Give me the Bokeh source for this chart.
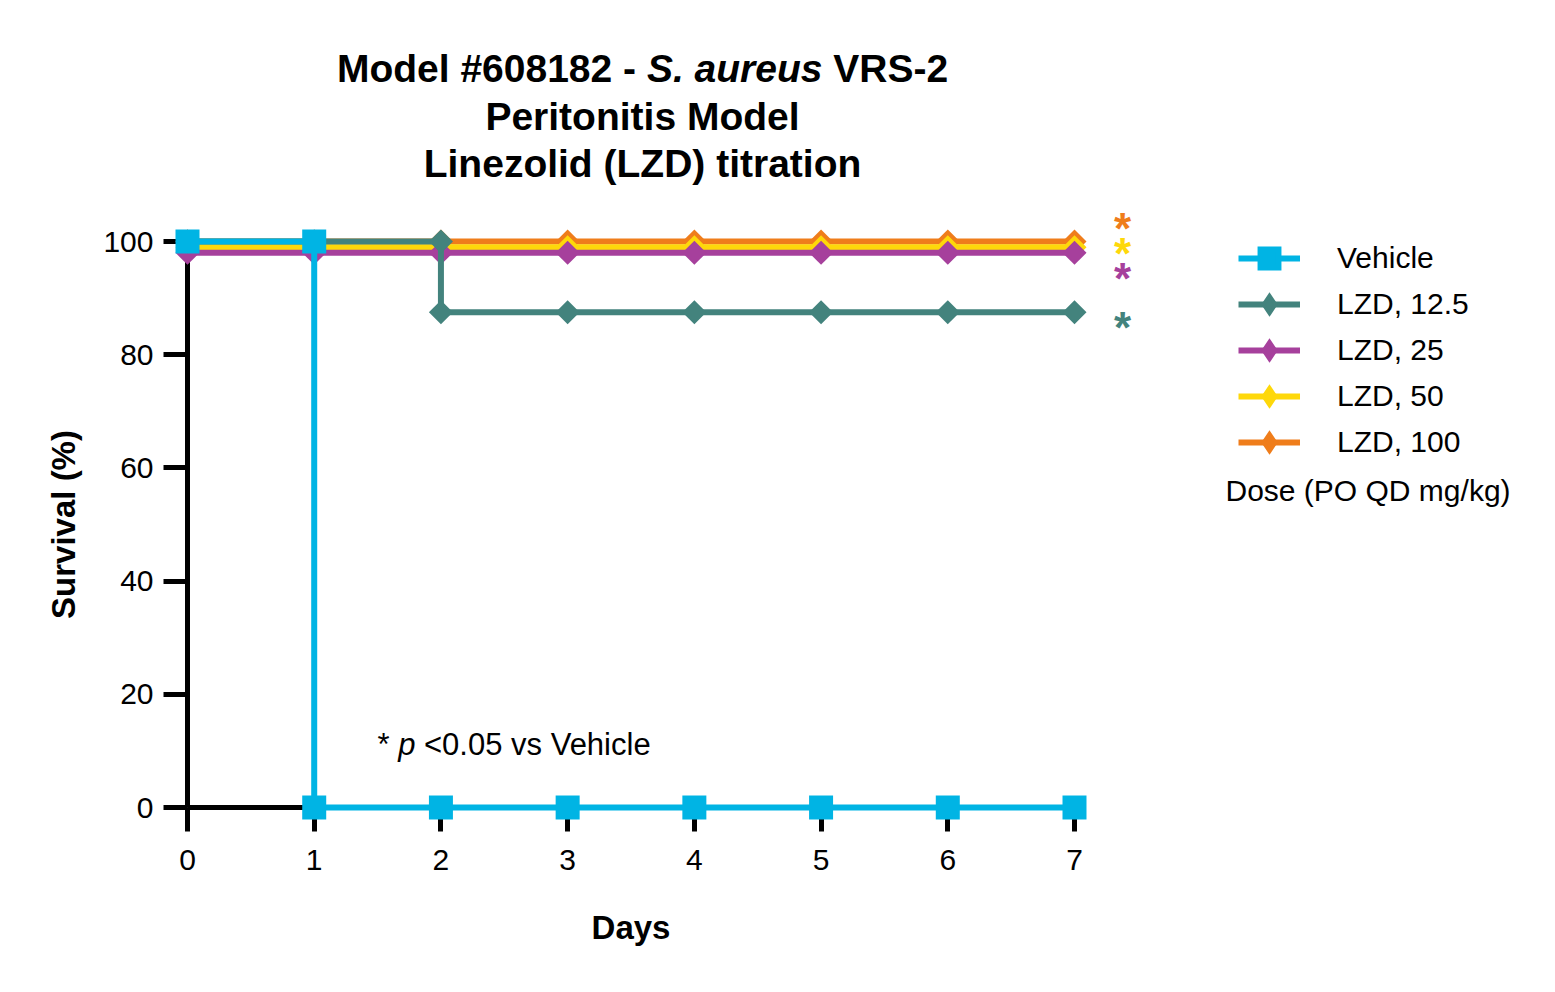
import numpy as np
from bokeh.plotting import figure
from bokeh.models import Range1d, FixedTicker, Legend, LegendItem
from bokeh.core.properties import value
from bokeh.embed import file_html
from bokeh.resources import INLINE

# ---------------- data ----------------
days = [0, 1, 2, 3, 4, 5, 6, 7]
vehicle = [100, 0, 0, 0, 0, 0, 0, 0]
lzd_12_5 = [100, 100, 87.5, 87.5, 87.5, 87.5, 87.5, 87.5]
lzd_25 = [98, 98, 98, 98, 98, 98, 98, 98]
lzd_50 = [99, 99, 99, 99, 99, 99, 99, 99]
lzd_100 = [100, 100, 100, 100, 100, 100, 100, 100]
series_names = ["Vehicle", "LZD, 12.5", "LZD, 25", "LZD, 50", "LZD, 100"]
x_ticks = [0, 1, 2, 3, 4, 5, 6, 7]
y_ticks = [0, 20, 40, 60, 80, 100]

# ---------------- layout ----------------
W, H = 1530, 968
FONT = "Liberation Sans"
# target screen positions of the axes, used to set the ranges
PX_X0, PX_X7 = 187.0, 1074.0
PX_Y0, PX_Y100 = 807.0, 241.0
sx = (PX_X7 - PX_X0) / 7.0
sy = (PX_Y0 - PX_Y100) / 100.0


def px2x(px):
    return (px - PX_X0) / sx


def px2y(py):
    return (PX_Y0 - py) / sy


p = figure(width=W, height=H, output_backend="svg", toolbar_location=None,
           x_range=Range1d(px2x(0), px2x(W)),
           y_range=Range1d(px2y(H), px2y(0)),
           min_border=0, min_border_left=0, min_border_bottom=0,
           min_border_top=0, min_border_right=0)
p.outline_line_color = None
p.grid.visible = False
p.background_fill_color = "white"

for ax in (p.xaxis, p.yaxis):
    ax.fixed_location = 0
    ax.axis_line_width = 5
    ax.axis_line_color = "black"
    ax.major_tick_line_width = 5
    ax.major_tick_line_color = "black"
    ax.major_tick_out = 24
    ax.major_tick_in = 0
    ax.minor_tick_line_color = None
    ax.major_label_text_font = FONT
    ax.major_label_text_font_size = "30px"
    ax.major_label_text_color = "black"
    ax.axis_label_text_font = FONT
    ax.axis_label_text_font_size = "33px"
    ax.axis_label_text_font_style = "bold"
    ax.axis_label_text_color = "black"
    ax.level = "underlay"

p.xaxis.bounds = (0, 7)
p.yaxis.bounds = (0, 100)
p.xaxis.ticker = FixedTicker(ticks=x_ticks)
p.yaxis.ticker = FixedTicker(ticks=y_ticks)
p.xaxis.axis_label = "Days"
p.yaxis.axis_label = "Survival (%)"
p.xaxis.major_label_standoff = 18
p.yaxis.major_label_standoff = 10
p.xaxis.axis_label_standoff = 36
p.yaxis.axis_label_standoff = 18

colors = {
    "Vehicle": "#00b4e4",
    "LZD, 12.5": "#43837d",
    "LZD, 25": "#a6409c",
    "LZD, 50": "#fed80a",
    "LZD, 100": "#ef7d1b",
}
data = {
    "Vehicle": vehicle,
    "LZD, 12.5": lzd_12_5,
    "LZD, 25": lzd_25,
    "LZD, 50": lzd_50,
    "LZD, 100": lzd_100,
}


def marker_points(xs, ys):
    mx, my = list(xs), list(ys)
    for i in range(1, len(ys)):
        if ys[i] != ys[i - 1]:
            mx.append(xs[i])
            my.append(ys[i - 1])
    return mx, my


renderers = {}
for name in ["LZD, 100", "LZD, 50", "LZD, 25", "LZD, 12.5", "Vehicle"]:
    c = colors[name]
    vals = data[name]
    lr = p.step(days, vals, mode="after", line_width=6, line_color=c,
                line_join="miter")
    mx, my = marker_points(days, vals)
    if name == "Vehicle":
        p.scatter(mx, my, marker="square", size=24, fill_color=c,
                  line_color=c, line_width=0)
        # legend-only swatch (single NaN point, nothing drawn in the plot)
        legend_glyph = p.scatter(x=[np.nan], y=[np.nan], marker="square", size=24,
                                 fill_color=c, line_color=c, line_width=5.5,
                                 line_join="miter")
    else:
        p.scatter(mx, my, marker="square", size=17, angle=np.pi / 4,
                  fill_color=c, line_color=c, line_width=0)
        # legend-only swatch (legend markers are drawn unrotated)
        legend_glyph = p.scatter(x=[np.nan], y=[np.nan], marker="diamond", size=24,
                                 fill_color=c, line_color=c, line_width=3.5,
                                 line_join="miter")
    renderers[name] = (lr, legend_glyph)

# legend
GH = 46
leg_items = [LegendItem(label=n, renderers=list(renderers[n])) for n in series_names]
legend = Legend(items=leg_items, location=(1238, H - (258 - GH / 2 + 5 * GH)),
                glyph_width=62, glyph_height=GH, spacing=0,
                label_standoff=37, padding=0, margin=0,
                border_line_color=None, background_fill_alpha=0,
                label_text_font=FONT, label_text_font_size="30px",
                label_text_color="black")
p.add_layout(legend)

# legend footnote
p.text([px2x(1225)], [px2y(490)], text=["Dose (PO QD mg/kg)"],
       text_font=value(FONT), text_font_size="30px", text_color="black",
       text_align="left", text_baseline="middle")

# title (three lines, first line with italic species name)
T = 39
p.text([px2x(336.4)], [px2y(68)], text=["Model #608182 -"],
       text_font=value(FONT), text_font_size=f"{T}px", text_font_style="bold",
       text_color="black", text_align="left", text_baseline="middle")
p.text([px2x(646.4)], [px2y(68)], text=["S. aureus"],
       text_font=value(FONT), text_font_size=f"{T}px", text_font_style="bold italic",
       text_color="black", text_align="left", text_baseline="middle")
p.text([px2x(832.8)], [px2y(68)], text=["VRS-2"],
       text_font=value(FONT), text_font_size=f"{T}px", text_font_style="bold",
       text_color="black", text_align="left", text_baseline="middle")
p.text([px2x(642)], [px2y(116)], text=["Peritonitis Model"],
       text_font=value(FONT), text_font_size=f"{T}px", text_font_style="bold",
       text_color="black", text_align="center", text_baseline="middle")
p.text([px2x(642)], [px2y(163)], text=["Linezolid (LZD) titration"],
       text_font=value(FONT), text_font_size=f"{T}px", text_font_style="bold",
       text_color="black", text_align="center", text_baseline="middle")

# significance note
N = 31
p.text([px2x(377)], [px2y(744)], text=["*"], text_font=value(FONT),
       text_font_size=f"{N}px", text_color="black", text_align="left",
       text_baseline="middle")
p.text([px2x(397.7)], [px2y(744)], text=["p"], text_font=value(FONT),
       text_font_size=f"{N}px", text_font_style="italic", text_color="black",
       text_align="left", text_baseline="middle")
p.text([px2x(423.5)], [px2y(744)], text=["<0.05 vs Vehicle"], text_font=value(FONT),
       text_font_size=f"{N}px", text_color="black", text_align="left",
       text_baseline="middle")

# significance asterisks next to each treated curve
ast_px = {"LZD, 100": 222, "LZD, 50": 247, "LZD, 25": 272, "LZD, 12.5": 321}
for name, py in ast_px.items():
    p.text([px2x(1122)], [px2y(py)], text=["*"], text_font=value(FONT),
           text_font_size="44px", text_font_style="bold", text_color=colors[name],
           text_align="center", text_baseline="alphabetic", y_offset=6)

open("out.html", "w").write(file_html(p, INLINE))
